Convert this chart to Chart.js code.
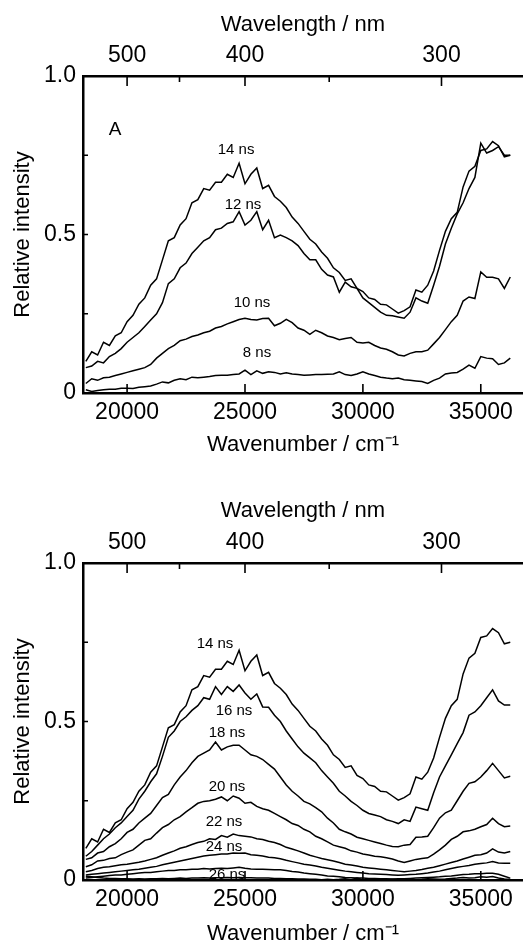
<!DOCTYPE html>
<html>
<head>
<meta charset="utf-8">
<script src="https://cdn.jsdelivr.net/npm/chart.js@4.4.1/dist/chart.umd.min.js"></script>
<style>
  html, body { margin: 0; padding: 0; background: #fff; overflow: hidden; }
  #topPanel { position: absolute; left: 0; top: 0; }
  #bottomPanel { position: absolute; left: 0; top: 470px; }
</style>
</head>
<body>
<canvas id="topPanel" width="523" height="470"></canvas>
<canvas id="bottomPanel" width="523" height="480"></canvas>
<script>
// wavenumber grid, cm-1
const wavenumbers = [
  18250, 18500, 18750,
  19000, 19250, 19500, 19750,
  20000, 20250, 20500, 20750,
  21000, 21250, 21500, 21750,
  22000, 22250, 22500, 22750,
  23000, 23250, 23500, 23750,
  24000, 24250, 24500, 24750,
  25000, 25250, 25500, 25750,
  26000, 26250, 26500, 26750,
  27000, 27250, 27500, 27750,
  28000, 28250, 28500, 28750,
  29000, 29250, 29500, 29750,
  30000, 30250, 30500, 30750,
  31000, 31250, 31500, 31750,
  32000, 32250, 32500, 32750,
  33000, 33250, 33500, 33750,
  34000, 34250, 34500, 34750,
  35000, 35250, 35500, 35750,
  36000, 36250
];

const ns8 = [
  0.010, 0.005, 0.008,
  0.010, 0.012, 0.012, 0.015,
  0.015, 0.014, 0.018, 0.020,
  0.022, 0.028, 0.035, 0.032,
  0.040, 0.045, 0.042, 0.050,
  0.048, 0.050, 0.052, 0.055,
  0.056, 0.056, 0.058, 0.060,
  0.072, 0.058, 0.070, 0.062,
  0.067, 0.065, 0.060, 0.064,
  0.060, 0.058, 0.056, 0.057,
  0.058, 0.058, 0.059, 0.060,
  0.067, 0.058, 0.055, 0.060,
  0.067, 0.060, 0.055, 0.050,
  0.047, 0.045, 0.047, 0.042,
  0.040, 0.038, 0.036, 0.030,
  0.040, 0.047, 0.060, 0.063,
  0.065, 0.075, 0.088, 0.078,
  0.115, 0.110, 0.108, 0.090,
  0.095, 0.110
];

const ns10 = [
  0.030, 0.045, 0.040,
  0.048, 0.050, 0.055, 0.060,
  0.065, 0.070, 0.075, 0.080,
  0.090, 0.110, 0.125, 0.140,
  0.150, 0.165, 0.170, 0.178,
  0.183, 0.190, 0.195, 0.205,
  0.210, 0.218, 0.225, 0.232,
  0.236, 0.232, 0.230, 0.235,
  0.236, 0.212, 0.220, 0.232,
  0.222, 0.205, 0.198, 0.185,
  0.198, 0.190, 0.180, 0.175,
  0.168, 0.172, 0.175, 0.160,
  0.158, 0.160, 0.150, 0.142,
  0.138, 0.130, 0.120, 0.117,
  0.125, 0.130, 0.130, 0.135,
  0.155, 0.175, 0.200, 0.225,
  0.245, 0.290, 0.303, 0.298,
  0.382, 0.365, 0.365, 0.360,
  0.330, 0.366
];

const ns12 = [
  0.080, 0.085, 0.100,
  0.095, 0.115, 0.125, 0.140,
  0.160, 0.175, 0.190, 0.210,
  0.230, 0.250, 0.285, 0.345,
  0.360, 0.395, 0.410, 0.440,
  0.460, 0.480, 0.490, 0.515,
  0.520, 0.535, 0.540, 0.572,
  0.530, 0.545, 0.572, 0.515,
  0.545, 0.490, 0.498, 0.490,
  0.480, 0.465, 0.440, 0.420,
  0.420, 0.390, 0.372, 0.366,
  0.318, 0.350, 0.335, 0.330,
  0.300, 0.285, 0.270, 0.255,
  0.245, 0.244, 0.240, 0.236,
  0.255, 0.300, 0.290, 0.283,
  0.340, 0.400, 0.470, 0.520,
  0.565, 0.600, 0.645, 0.680,
  0.788, 0.757, 0.765, 0.777,
  0.750, 0.750
];

const ns14 = [
  0.100, 0.130, 0.120,
  0.160, 0.150, 0.180, 0.190,
  0.225, 0.245, 0.280, 0.300,
  0.340, 0.360, 0.420, 0.480,
  0.490, 0.530, 0.550, 0.600,
  0.610, 0.645, 0.640, 0.665,
  0.665, 0.690, 0.680, 0.725,
  0.660, 0.690, 0.710, 0.645,
  0.655, 0.620, 0.605, 0.585,
  0.555, 0.535, 0.510, 0.485,
  0.470, 0.445, 0.425, 0.395,
  0.380, 0.355, 0.360, 0.330,
  0.320, 0.300, 0.295, 0.280,
  0.278, 0.265, 0.252, 0.260,
  0.272, 0.325, 0.318, 0.340,
  0.385, 0.450, 0.510, 0.550,
  0.570, 0.650, 0.700, 0.715,
  0.765, 0.770, 0.793, 0.780,
  0.745, 0.750
];

const ns16 = [
  0.075, 0.090, 0.110,
  0.130, 0.145, 0.165, 0.180,
  0.200, 0.220, 0.255, 0.280,
  0.310, 0.335, 0.390, 0.450,
  0.470, 0.500, 0.515, 0.535,
  0.550, 0.575, 0.570, 0.610,
  0.585, 0.610, 0.595, 0.615,
  0.590, 0.570, 0.587, 0.546,
  0.545, 0.520, 0.500, 0.470,
  0.445, 0.420, 0.400, 0.385,
  0.370, 0.345, 0.325, 0.305,
  0.280, 0.265, 0.248, 0.235,
  0.220, 0.210, 0.205, 0.200,
  0.190, 0.185, 0.178, 0.190,
  0.185, 0.230, 0.225, 0.220,
  0.275, 0.325, 0.360, 0.395,
  0.430, 0.465, 0.520, 0.530,
  0.550, 0.575, 0.600, 0.565,
  0.552, 0.552
];

const ns18 = [
  0.065, 0.070, 0.085,
  0.090, 0.105, 0.115, 0.130,
  0.150, 0.160, 0.180, 0.195,
  0.210, 0.235, 0.260, 0.270,
  0.300, 0.325, 0.345, 0.370,
  0.390, 0.400, 0.410, 0.435,
  0.410, 0.420, 0.425, 0.425,
  0.410, 0.395, 0.390, 0.380,
  0.365, 0.350, 0.325, 0.300,
  0.280, 0.265, 0.248, 0.240,
  0.228, 0.215, 0.195, 0.180,
  0.160, 0.152, 0.145, 0.135,
  0.130, 0.125, 0.120, 0.115,
  0.110, 0.106, 0.105, 0.110,
  0.112, 0.135, 0.136, 0.138,
  0.165, 0.195, 0.212, 0.220,
  0.250, 0.280, 0.305, 0.310,
  0.325, 0.345, 0.368, 0.345,
  0.322, 0.327
];

const ns20 = [
  0.042, 0.048, 0.060,
  0.062, 0.068, 0.070, 0.080,
  0.088, 0.095, 0.110, 0.125,
  0.130, 0.148, 0.165, 0.175,
  0.190, 0.200, 0.215, 0.228,
  0.242, 0.248, 0.250, 0.255,
  0.262, 0.250, 0.265, 0.258,
  0.242, 0.245, 0.232, 0.225,
  0.220, 0.210, 0.200, 0.190,
  0.178, 0.172, 0.160, 0.152,
  0.138, 0.130, 0.120, 0.110,
  0.105, 0.100, 0.092, 0.088,
  0.082, 0.079, 0.075, 0.073,
  0.070, 0.066, 0.060, 0.055,
  0.060, 0.065, 0.068, 0.070,
  0.082, 0.095, 0.110, 0.128,
  0.138, 0.152, 0.155, 0.160,
  0.168, 0.175, 0.195, 0.178,
  0.168, 0.170
];

const ns22 = [
  0.026, 0.030, 0.036,
  0.040, 0.042, 0.045, 0.048,
  0.050, 0.053, 0.056, 0.060,
  0.065, 0.070, 0.078, 0.085,
  0.092, 0.100, 0.105, 0.112,
  0.118, 0.122, 0.130, 0.128,
  0.140, 0.135, 0.145, 0.140,
  0.138, 0.136, 0.130, 0.128,
  0.122, 0.118, 0.112, 0.103,
  0.098, 0.092, 0.085, 0.078,
  0.073, 0.068, 0.064, 0.060,
  0.055, 0.050, 0.047, 0.044,
  0.040, 0.038, 0.036, 0.034,
  0.032, 0.030, 0.028, 0.026,
  0.028, 0.030, 0.033, 0.037,
  0.040, 0.045, 0.050, 0.055,
  0.060, 0.066, 0.072, 0.078,
  0.080, 0.085, 0.098, 0.088,
  0.085, 0.090
];

const ns24 = [
  0.016, 0.018, 0.020,
  0.022, 0.024, 0.026, 0.028,
  0.030, 0.032, 0.034, 0.037,
  0.040, 0.043, 0.048, 0.052,
  0.056, 0.060, 0.064, 0.068,
  0.072, 0.076, 0.078, 0.080,
  0.082, 0.082, 0.085, 0.084,
  0.085, 0.080, 0.078, 0.076,
  0.072, 0.070, 0.067, 0.062,
  0.058, 0.054, 0.050, 0.047,
  0.044, 0.040, 0.037, 0.034,
  0.031, 0.028, 0.026, 0.024,
  0.022, 0.020, 0.019, 0.018,
  0.017, 0.016, 0.015, 0.016,
  0.017, 0.018, 0.020, 0.022,
  0.025, 0.028, 0.032, 0.036,
  0.040, 0.043, 0.046, 0.050,
  0.052, 0.054, 0.058, 0.054,
  0.053, 0.053
];

const ns26 = [
  0.006, 0.008, 0.010,
  0.012, 0.014, 0.016, 0.016,
  0.018, 0.020, 0.022, 0.024,
  0.024, 0.026, 0.028, 0.030,
  0.030, 0.032, 0.032, 0.034,
  0.034, 0.036, 0.035, 0.036,
  0.037, 0.036, 0.038, 0.040,
  0.037, 0.035, 0.034, 0.034,
  0.033, 0.032, 0.032, 0.030,
  0.027, 0.025, 0.022, 0.020,
  0.018, 0.016, 0.013, 0.012,
  0.010, 0.008, 0.007, 0.006,
  0.006, 0.005, 0.005, 0.004,
  0.004, 0.003, 0.004, 0.004,
  0.005, 0.006, 0.007, 0.008,
  0.009, 0.010, 0.012, 0.013,
  0.015, 0.017, 0.018, 0.020,
  0.020, 0.021, 0.021, 0.018,
  0.012, 0.006
];

const ns28 = [
  0.012, 0.010, 0.008,
  0.006, 0.005, 0.005, 0.004,
  0.004, 0.003, 0.004, 0.003,
  0.004, 0.004, 0.005, 0.004,
  0.005, 0.006, 0.005, 0.006,
  0.006, 0.007, 0.006, 0.007,
  0.007, 0.008, 0.007, 0.008,
  0.007, 0.007, 0.006, 0.006,
  0.006, 0.005, 0.005, 0.004,
  0.004, 0.003, 0.003, 0.002,
  0.002, 0.001, 0.002, 0.001,
  0.002, 0.004, 0.001, 0.006,
  0.001, 0.002, 0.004, 0.001,
  0.001, 0.002, 0.001, 0.001,
  0.003, 0.001, 0.002, 0.004,
  0.003, 0.002, 0.003, 0.005,
  0.006, 0.008, 0.006, 0.007,
  0.010, 0.009, 0.011, 0.006,
  0.003, 0.002
];

const topCurves = [ns14, ns12, ns10, ns8];
const bottomCurves = [ns14, ns16, ns18, ns20, ns22, ns24, ns26, ns28];

// axis ticks
const wavenumberTicks = [20000, 25000, 30000, 35000];
const wavelengthTicks = [500, 400, 300];
const wavelengthMinor = [450, 350];
const intensityTicks = [0, 0.5, 1];
const intensityMarks = [0.25, 0.5, 0.75];

// curve labels, placed in data units
const topNotes = ['A', '14 ns', '12 ns', '10 ns', '8 ns'];
const topNoteX = [19490, 24620, 24915, 25296, 25508];
const topNoteY = [0.83, 0.767, 0.593, 0.284, 0.126];
const bottomNotes = ['14 ns', '16 ns', '18 ns', '20 ns', '22 ns', '24 ns', '26 ns'];
const bottomNoteX = [23729, 24534, 24237, 24237, 24110, 24110, 24237];
const bottomNoteY = [0.745, 0.533, 0.464, 0.293, 0.183, 0.104, 0.016];

const X_MIN = 18130;
const X_MAX = 36790;

Chart.defaults.font.family = '"Liberation Sans", Arial, Helvetica, sans-serif';
Chart.defaults.color = '#000';

function tickMarks(chart) {
    const { ctx, chartArea: a, scales } = chart;
    ctx.save();
    ctx.strokeStyle = '#000';
    ctx.lineWidth = 1.6;
    ctx.beginPath();
    intensityMarks.forEach((v) => {
        const y = scales.y.getPixelForValue(v);
        ctx.moveTo(a.left, y);
        ctx.lineTo(a.left + 5, y);
    });
    wavenumberTicks.forEach((v) => {
        const x = scales.x.getPixelForValue(v);
        ctx.moveTo(x, a.bottom);
        ctx.lineTo(x, a.bottom - 9);
    });
    wavelengthTicks.forEach((nm) => {
        const x = scales.x.getPixelForValue(1e7 / nm);
        ctx.moveTo(x, a.top);
        ctx.lineTo(x, a.top + 10);
    });
    wavelengthMinor.forEach((nm) => {
        const x = scales.x.getPixelForValue(1e7 / nm);
        ctx.moveTo(x, a.top);
        ctx.lineTo(x, a.top + 6);
    });
    ctx.stroke();
    ctx.restore();
}

function notesPlugin(texts, xs, ys) {
    return {
        id: 'notes',
        afterDatasetsDraw(chart) {
            const { ctx, scales } = chart;
            tickMarks(chart);
            ctx.save();
            ctx.fillStyle = '#000';
            ctx.textAlign = 'center';
            ctx.textBaseline = 'middle';
            texts.forEach((t, i) => {
                ctx.font = (t === 'A' ? '19px' : '15px') + ' "Liberation Sans", Arial, sans-serif';
                ctx.fillText(t, scales.x.getPixelForValue(xs[i]), scales.y.getPixelForValue(ys[i]));
            });
            ctx.restore();
        },
    };
}

function makePanel(id, curves, notes, topH, bottomH, topTitlePad, bottomTitlePad) {
    const border = { display: true, color: '#000', width: 2.5 };
    const grid = { display: false, drawTicks: false };
    return new Chart(document.getElementById(id), {
        type: 'line',
        data: {
            datasets: curves.map((c) => ({
                data: wavenumbers.map((w, i) => ({ x: w, y: c[i] })),
                borderColor: '#000',
                borderWidth: 1.5,
                pointRadius: 0,
                tension: 0,
                fill: false,
            })),
        },
        options: {
            responsive: false,
            animation: false,
            devicePixelRatio: 1,
            layout: { padding: 0 },
            plugins: { legend: { display: false }, tooltip: { enabled: false } },
            scales: {
                x: {
                    type: 'linear',
                    position: 'bottom',
                    min: X_MIN,
                    max: X_MAX,
                    afterBuildTicks: (s) => { s.ticks = wavenumberTicks.map((v) => ({ value: v })); },
                    afterFit: (s) => { s.height = bottomH; },
                    grid,
                    border,
                    ticks: { font: { size: 23 }, padding: 6, maxRotation: 0, callback: (v) => String(v) },
                    title: {
                        display: true, text: 'Wavenumber / cm⁻¹', font: { size: 22 },
                        padding: { top: 0, bottom: bottomTitlePad },
                    },
                },
                x2: {
                    type: 'linear',
                    position: 'top',
                    min: X_MIN,
                    max: X_MAX,
                    afterBuildTicks: (s) => { s.ticks = wavelengthTicks.map((nm) => ({ value: 1e7 / nm })); },
                    afterFit: (s) => { s.height = topH; },
                    grid,
                    border,
                    ticks: { font: { size: 23 }, padding: 7, maxRotation: 0, callback: (v) => String(Math.round(1e7 / v)) },
                    title: {
                        display: true, text: 'Wavelength / nm', font: { size: 22 },
                        padding: { top: topTitlePad, bottom: 0 },
                    },
                },
                y: {
                    min: 0,
                    max: 1,
                    afterBuildTicks: (s) => { s.ticks = intensityTicks.map((v) => ({ value: v })); },
                    afterFit: (s) => { s.width = 83; },
                    grid,
                    border,
                    ticks: { font: { size: 23 }, padding: 7, callback: (v) => (v === 0 ? '0' : v.toFixed(1)) },
                    title: {
                        display: true, text: 'Relative intensity', font: { size: 22 },
                        padding: { top: 10, bottom: 0 },
                    },
                },
            },
        },
        plugins: [notesPlugin(notes[0], notes[1], notes[2])],
    });
}

makePanel('topPanel', topCurves, [topNotes, topNoteX, topNoteY], 76, 77, 12, 12);
makePanel('bottomPanel', bottomCurves, [bottomNotes, bottomNoteX, bottomNoteY], 93, 70, 28, 3);
</script>
</body>
</html>
